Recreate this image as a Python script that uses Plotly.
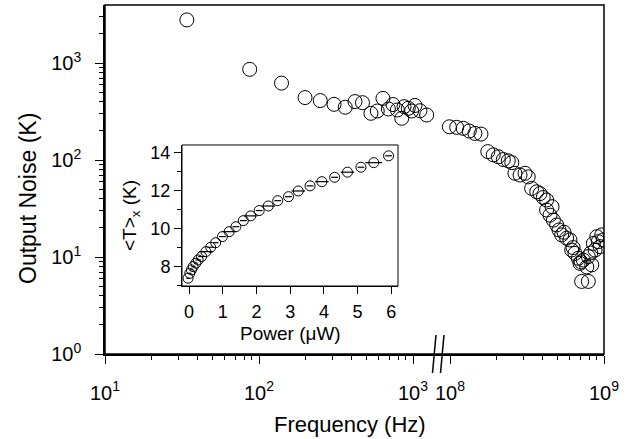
import plotly.graph_objects as go

# ---- main data: audio-frequency segment ----
freq_low = [34, 87, 140, 199, 250, 307, 363, 420, 470, 533, 586, 638, 692, 741,
            791, 845, 875, 932, 980, 1030, 1110, 1227]
noise_low = [2780, 860, 620, 440, 410, 375, 350, 400, 390, 303, 320, 432, 336, 373,
             328, 269, 355, 341, 320, 365, 322, 291]

# ---- main data: RF segment ----
freq_high = [0.99e8, 1.105e8, 1.22e8, 1.334e8, 1.452e8, 1.589e8,
             1.76e8, 1.91e8, 2.06e8, 2.22e8, 2.39e8, 2.52e8,
             2.64e8, 2.85e8, 3.07e8, 3.22e8,
             3.39e8, 3.66e8, 3.84e8, 4.03e8, 4.24e8,
             4.24e8, 4.46e8, 4.69e8, 4.93e8, 4.60e8, 5.10e8,
             5.31e8, 5.72e8, 6.01e8, 5.50e8,
             6.17e8, 6.48e8, 6.81e8, 6.98e8, 7.34e8, 7.91e8, 8.33e8, 7.73e8, 6.30e8, 7.10e8,
             7.16e8, 7.91e8,
             8.53e8, 8.98e8, 9.67e8, 9.90e8, 9.18e8, 8.75e8, 9.43e8, 8.20e8]
noise_high = [220, 217, 212, 199, 188, 185,
              122, 113, 108, 101, 98, 94,
              73, 70, 73, 67,
              51, 47, 45, 41, 38.7,
              30.5, 27, 24, 21.4, 33, 19,
              16.9, 15.6, 15, 18,
              11.8, 10.9, 9.7, 8.6, 9.3, 10.1, 8.3, 7.9, 12.5, 8.9,
              5.6, 5.6,
              13.8, 16.2, 16.9, 15, 14.4, 11.8, 12.8, 11.0]

# ---- inset data ----
power = [-0.03, 0.02, 0.07, 0.12, 0.20, 0.27, 0.37, 0.50, 0.64, 0.79, 0.99, 1.19,
         1.39, 1.61, 1.83, 2.08, 2.35, 2.63, 2.95, 3.24, 3.59, 3.94, 4.32, 4.70,
         5.10, 5.48, 5.92]
temp = [7.39, 7.65, 7.83, 8.00, 8.18, 8.35, 8.53, 8.79, 9.02, 9.26, 9.58, 9.84,
        10.10, 10.42, 10.67, 10.95, 11.19, 11.47, 11.68, 11.98, 12.25, 12.47, 12.70,
        12.97, 13.23, 13.47, 13.83]
power_err = [0.05, 0.05, 0.05, 0.05, 0.05, 0.08, 0.1, 0.2, 0.1, 0.08, 0.1, 0.2,
             0.1, 0.1, 0.2, 0.1, 0.2, 0.1, 0.1, 0.2, 0.1, 0.2, 0.1, 0.2,
             0.1, 0.25, 0.1]

y_tickvals = [1, 10, 100, 1000]
y_ticktext = ["10<sup>0</sup>", "10<sup>1</sup>", "10<sup>2</sup>", "10<sup>3</sup>"]
x1_tickvals = [10, 100, 1000]
x1_ticktext = ["10<sup>1</sup>", "10<sup>2</sup>", "10<sup>3</sup>"]
x2_tickvals = [1e8, 1e9]
x2_ticktext = ["10<sup>8</sup>", "10<sup>9</sup>"]

def minor_vals(dec_lo, dec_hi):
    return [m * 10 ** d for d in range(dec_lo, dec_hi) for m in range(2, 10)]

FONT = "Liberation Sans, Arial, sans-serif"
W, H = 643, 439
ml, mr, mt, mb = 105, 39, 5, 85
split = 0.668
pw = W - ml - mr
ph = H - mt - mb

def px(x): return (x - ml) / pw
def py(y): return (H - mb - y) / ph

fig = go.Figure()
mk_main = dict(symbol="circle-open", size=14, color="black", line=dict(width=1))
fig.add_trace(go.Scatter(x=freq_low, y=noise_low, mode="markers", marker=mk_main,
                         xaxis="x", yaxis="y", showlegend=False))
fig.add_trace(go.Scatter(x=freq_high, y=noise_high, mode="markers", marker=mk_main,
                         xaxis="x2", yaxis="y", showlegend=False))
fig.add_trace(go.Scatter(x=power, y=temp, mode="markers",
                         marker=dict(symbol="circle-open", size=10, color="black", line=dict(width=1)),
                         error_x=dict(type="data", array=power_err, color="black", thickness=1.2, width=0),
                         xaxis="x3", yaxis="y3", showlegend=False))

axis_common = dict(showgrid=False, zeroline=False, showline=True, linecolor="black",
                   linewidth=1.5, ticks="outside", tickcolor="black", tickwidth=1.2,
                   tickfont=dict(family=FONT, size=20, color="black"), automargin=False)
minor_common = dict(tickmode="array", ticks="outside", ticklen=4, tickcolor="black",
                    tickwidth=1.2, showgrid=False)
inset_common = dict(showgrid=False, zeroline=False, showline=True, linecolor="black",
                    linewidth=1, ticks="outside", ticklen=7, tickcolor="black", tickwidth=1,
                    tickfont=dict(family=FONT, size=18, color="black"), automargin=False)

fig.update_layout(
    width=W, height=H,
    margin=dict(l=ml, r=mr, t=mt, b=mb),
    paper_bgcolor="white", plot_bgcolor="white",
    font=dict(family=FONT, color="black"),
    xaxis=dict(**axis_common, type="log", domain=[0, split], anchor="y",
               range=[1, 1 + (split * pw) / 154], ticklabelstandoff=12,
               tickmode="array", tickvals=x1_tickvals, ticktext=x1_ticktext, ticklen=8,
               minor=dict(**minor_common, tickvals=minor_vals(1, 4))),
    xaxis2=dict(**axis_common, type="log", domain=[split, 1], anchor="y",
                range=[9 - ((1 - split) * pw) / 154, 9], ticklabelstandoff=12,
                tickmode="array", tickvals=x2_tickvals, ticktext=x2_ticktext, ticklen=8,
                minor=dict(**minor_common, tickvals=minor_vals(8, 9))),
    yaxis=dict(**axis_common, type="log", domain=[0, 1], anchor="x",
               range=[0, ph / 97], ticklabelstandoff=10,
               tickmode="array", tickvals=y_tickvals, ticktext=y_ticktext, ticklen=8,
               minor=dict(**minor_common, tickvals=minor_vals(0, 4))),
    xaxis3=dict(**inset_common, domain=[0.1543, 0.5872], anchor="y3", range=[-0.21, 6.2],
                tickmode="linear", tick0=0, dtick=1, ticklabelstandoff=2),
    yaxis3=dict(**inset_common, domain=[0.1948, 0.5989], anchor="x3", range=[6.98, 14.4],
                tickmode="linear", tick0=8, dtick=2,
                minor=dict(tickmode="linear", tick0=7, dtick=1, ticks="outside", ticklen=4,
                           tickcolor="black", tickwidth=1, showgrid=False)),
)

# axis titles
fig.add_annotation(text="Frequency (Hz)", xref="paper", yref="paper", x=px(350), y=py(424),
                   showarrow=False, font=dict(family=FONT, size=22, color="black"),
                   xanchor="center", yanchor="middle")
fig.add_annotation(text="Output Noise (K)", xref="paper", yref="paper", x=px(28), y=py(199),
                   showarrow=False, textangle=-90, font=dict(family=FONT, size=23, color="black"),
                   xanchor="center", yanchor="middle")
fig.add_annotation(text="Power (\u03bcW)", xref="paper", yref="paper", x=px(290), y=py(333),
                   showarrow=False, font=dict(family=FONT, size=19, color="black"),
                   xanchor="center", yanchor="middle")
fig.add_annotation(text="&lt;T&gt;<sub>x</sub> (K)", xref="paper", yref="paper", x=px(131), y=py(216),
                   showarrow=False, textangle=-90, font=dict(family=FONT, size=19, color="black"),
                   xanchor="center", yanchor="middle")

# frames
fig.add_shape(type="rect", xref="paper", yref="paper", x0=0, x1=1, y0=0, y1=1,
              line=dict(color="black", width=1.5), layer="above")
fig.add_shape(type="rect", xref="x3 domain", yref="y3 domain", x0=0, x1=1, y0=0, y1=1,
              line=dict(color="black", width=1), layer="above")

# axis break marks
for xt, xb in [(436, 432.5), (444, 440.5)]:
    fig.add_shape(type="line", xref="paper", yref="paper",
                  x0=px(xt), y0=py(335), x1=px(xb), y1=py(373),
                  line=dict(color="black", width=1.5))

fig.write_html("out.html", config={"displayModeBar": False},
               post_script="document.body.style.margin='0';document.body.style.overflow='hidden';")
